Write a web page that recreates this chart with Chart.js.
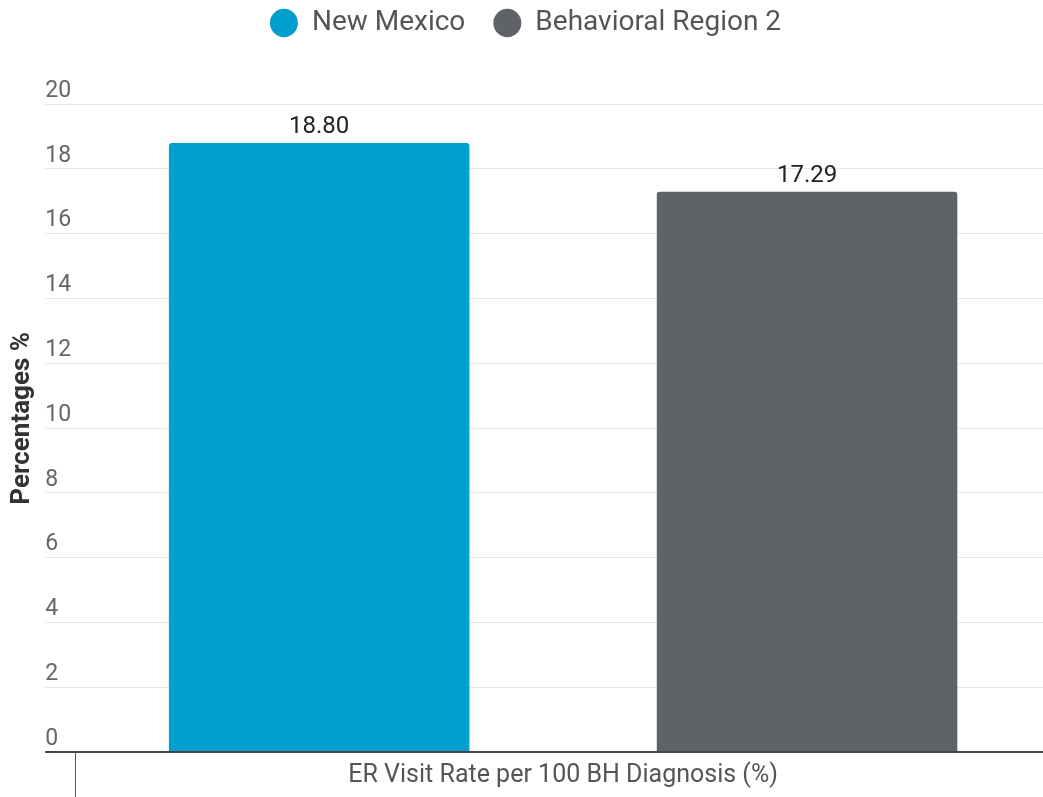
<!DOCTYPE html>
<html>
<head>
<meta charset="utf-8">
<script src="https://cdn.jsdelivr.net/npm/chart.js@4/dist/chart.umd.min.js"></script>
<style>
  html, body { margin: 0; padding: 0; background: #ffffff; overflow: hidden; }
  #wrap { position: relative; width: 1054px; height: 797px; }
</style>
</head>
<body>
<div id="wrap"><canvas id="c"></canvas></div>
<script>
const categories = ['ER Visit Rate per 100 BH Diagnosis (%)'];
const seriesNames = ['New Mexico', 'Behavioral Region 2'];
const newMexicoValues = [18.80];
const region2Values = [17.29];
const seriesColors = ['#019fcd', '#5f6266'];
const yTitle = '   Percentages %';

Chart.defaults.font.family = 'Roboto, "Noto Sans", sans-serif';

const valueLabels = {
  id: 'valueLabels',
  afterDatasetsDraw(chart) {
    const ctx = chart.ctx;
    ctx.save();
    ctx.font = '24px Roboto, "Noto Sans", sans-serif';
    ctx.fillStyle = '#222222';
    ctx.textAlign = 'center';
    ctx.textBaseline = 'bottom';
    chart.data.datasets.forEach((ds, di) => {
      const meta = chart.getDatasetMeta(di);
      meta.data.forEach((bar, i) => {
        ctx.fillText(ds.data[i].toFixed(2), bar.x, bar.y - 4);
      });
    });
    ctx.restore();
  }
};

const legendSpace = {
  id: 'legendSpace',
  beforeInit(chart) {
    const origFit = chart.legend.fit;
    chart.legend.fit = function () {
      origFit.call(this);
      this.height += 57;
    };
  }
};

new Chart(document.getElementById('c'), {
  type: 'bar',
  data: {
    labels: categories,
    datasets: [
      { label: seriesNames[0], data: newMexicoValues, backgroundColor: seriesColors[0], borderRadius: 3, borderSkipped: 'bottom' },
      { label: seriesNames[1], data: region2Values, backgroundColor: seriesColors[1], borderRadius: 3, borderSkipped: 'bottom' }
    ]
  },
  options: {
    responsive: true,
    maintainAspectRatio: false,
    animation: false,
    devicePixelRatio: 1,
    layout: { padding: { top: -19, right: 3, bottom: 45, left: 0 } },
    datasets: { bar: { categoryPercentage: 1.0, barPercentage: 0.616 } },
    plugins: {
      legend: {
        position: 'top',
        labels: {
          usePointStyle: true,
          pointStyle: 'circle',
          boxHeight: 20,
          pointStyleWidth: 28,
          padding: 28,
          color: '#555555',
          font: { size: 28 }
        }
      },
      tooltip: { enabled: false }
    },
    scales: {
      x: {
        border: { display: true, color: '#444444', width: 2 },
        grid: { display: true, offset: true, drawOnChartArea: false, drawTicks: true, tickLength: 45, color: '#555555', lineWidth: 1 },
        ticks: { color: '#555555', font: { size: 25 }, mirror: true, padding: -39, maxRotation: 0, autoSkip: false }
      },
      y: {
        min: 0, max: 20,
        border: { display: false },
        grid: {
          tickLength: 30,
          color: (c) => (c.tick && c.tick.value === 0) ? '#444444' : '#e8e8e8',
          lineWidth: (c) => (c.tick && c.tick.value === 0) ? 2 : 1
        },
        ticks: { stepSize: 2, mirror: true, padding: -30, labelOffset: -13, color: '#666666', font: { size: 23 } },
        title: { display: true, text: yTitle, color: '#333333', font: { size: 26, weight: 'bold' }, padding: { top: 7, bottom: 67 } }
      }
    }
  },
  plugins: [valueLabels, legendSpace]
});
</script>
</body>
</html>
